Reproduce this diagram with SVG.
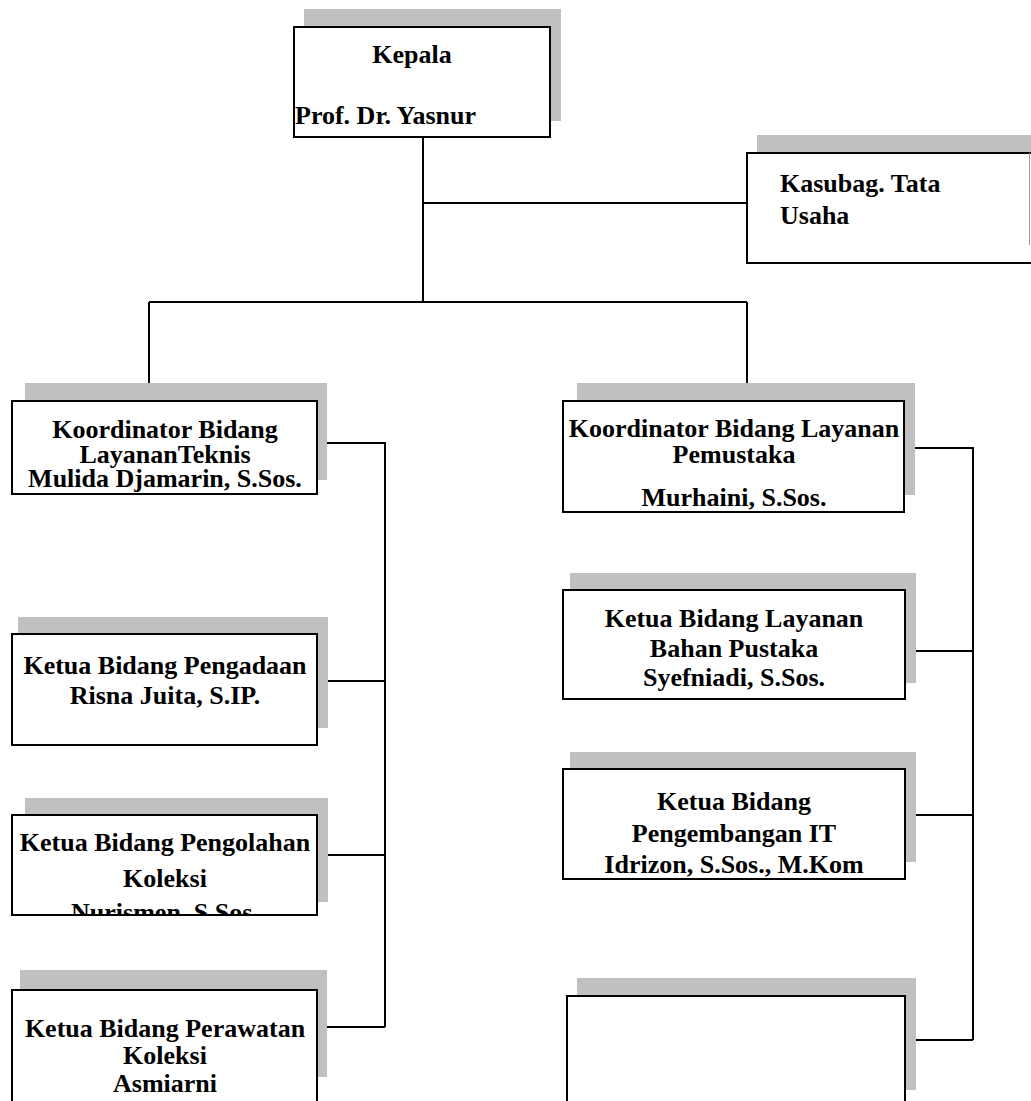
<svg xmlns="http://www.w3.org/2000/svg" width="1031" height="1101" viewBox="0 0 1031 1101">
<style>
.sh{fill:#c0c0c0;stroke:none}
.bx{fill:#fff;stroke:#000;stroke-width:2}
.t{font-family:"Liberation Serif","Times New Roman",serif;font-weight:bold;font-size:26px;fill:#000}
.c{text-anchor:middle}
.ln{fill:none;stroke:#000;stroke-width:2}
</style>
<defs>
<clipPath id="clipPengolahan"><rect x="12" y="815" width="305" height="100"/></clipPath>
</defs>
<rect width="1031" height="1101" fill="#fff"/>
<g id="connectors">
<path class="ln" d="M423,137 V302 M423,203 H747 M149,302 H747 M149,302 V401 M747,302 V401"/>
<path class="ln" d="M317,443 H385 V1027 M317,681 H385 M317,855 H385 M317,1027 H385"/>
<path class="ln" d="M904,448 H973 V1040 M904,651 H973 M904,815 H973 M904,1040 H973"/>
</g>
<g id="node-kepala">
<rect class="sh" x="304" y="9" width="257" height="112"/>
<rect class="bx" x="294" y="27" width="256" height="110"/>
<text class="t c" x="412" y="63">Kepala</text>
<text class="t" x="295" y="124">Prof. Dr. Yasnur</text>
</g>
<g id="node-kasubag">
<rect class="sh" x="757" y="135" width="290" height="110"/>
<rect class="bx" x="747" y="153" width="300" height="110"/>
<line x1="1029.5" y1="153" x2="1029.5" y2="245" stroke="#999" stroke-width="1"/>
<text class="t" x="780" y="192">Kasubag. Tata</text>
<text class="t" x="780" y="224">Usaha</text>
</g>
<g id="node-koord-teknis">
<rect class="sh" x="25" y="383" width="302" height="97"/>
<rect class="bx" x="12" y="401" width="305" height="93"/>
<text class="t c" x="165" y="438">Koordinator Bidang</text>
<text class="t c" x="165" y="463">LayananTeknis</text>
<text class="t c" x="165" y="487">Mulida Djamarin, S.Sos.</text>
</g>
<g id="node-pengadaan">
<rect class="sh" x="18" y="617" width="310" height="111"/>
<rect class="bx" x="12" y="634" width="305" height="111"/>
<text class="t c" x="165" y="674">Ketua Bidang Pengadaan</text>
<text class="t c" x="165" y="704">Risna Juita, S.IP.</text>
</g>
<g id="node-pengolahan">
<rect class="sh" x="25" y="798" width="303" height="104"/>
<rect class="bx" x="12" y="815" width="305" height="100"/>
<g clip-path="url(#clipPengolahan)">
<text class="t c" x="165" y="851">Ketua Bidang Pengolahan</text>
<text class="t c" x="165" y="887">Koleksi</text>
<text class="t c" x="165" y="921">Nurismen, S.Sos.</text>
</g>
<rect class="ln" x="12" y="815" width="305" height="100"/>
</g>
<g id="node-perawatan">
<rect class="sh" x="20" y="970" width="307" height="107"/>
<rect class="bx" x="12" y="990" width="305" height="120"/>
<text class="t c" x="165" y="1037">Ketua Bidang Perawatan</text>
<text class="t c" x="165" y="1064">Koleksi</text>
<text class="t c" x="165" y="1092">Asmiarni</text>
</g>
<g id="node-koord-pemustaka">
<rect class="sh" x="577" y="383" width="338" height="112"/>
<rect class="bx" x="563" y="401" width="341" height="111"/>
<text class="t c" x="734" y="437">Koordinator Bidang Layanan</text>
<text class="t c" x="734" y="463">Pemustaka</text>
<text class="t c" x="734" y="506">Murhaini, S.Sos.</text>
</g>
<g id="node-bahan-pustaka">
<rect class="sh" x="570" y="573" width="346" height="110"/>
<rect class="bx" x="563" y="590" width="342" height="109"/>
<text class="t c" x="734" y="627">Ketua Bidang Layanan</text>
<text class="t c" x="734" y="657">Bahan Pustaka</text>
<text class="t c" x="734" y="686">Syefniadi, S.Sos.</text>
</g>
<g id="node-it">
<rect class="sh" x="570" y="752" width="346" height="110"/>
<rect class="bx" x="563" y="769" width="342" height="110"/>
<text class="t c" x="734" y="810">Ketua Bidang</text>
<text class="t c" x="734" y="842">Pengembangan IT</text>
<text class="t c" x="734" y="873">Idrizon, S.Sos., M.Kom</text>
</g>
<g id="node-empty">
<rect class="sh" x="577" y="978" width="339" height="112"/>
<rect class="bx" x="567" y="996" width="338" height="120"/>
</g>
</svg>
